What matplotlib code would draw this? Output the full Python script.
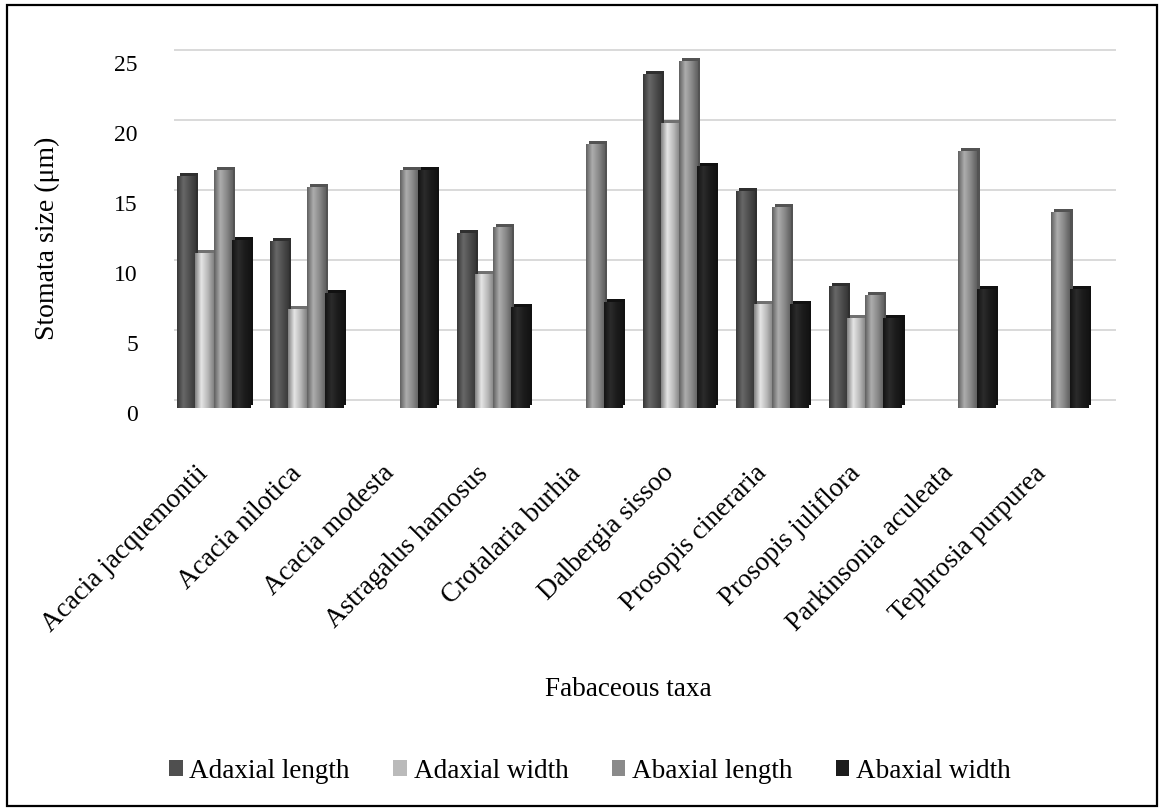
import numpy as np
import matplotlib.pyplot as plt
import matplotlib.colors as mcolors
from matplotlib.patches import Rectangle
from matplotlib.transforms import ScaledTranslation

plt.rcParams['font.family'] = ['Liberation Serif', 'DejaVu Serif']

taxa = ["Acacia jacquemontii", "Acacia nilotica", "Acacia modesta",
        "Astragalus hamosus", "Crotalaria burhia", "Dalbergia sissoo",
        "Prosopis cineraria", "Prosopis juliflora", "Parkinsonia aculeata",
        "Tephrosia purpurea"]
series = ["Adaxial length", "Adaxial width", "Abaxial length", "Abaxial width"]

adaxial_length = [16.6, 11.9, 0, 12.5, 0, 23.9, 15.5, 8.7, 0, 0]
adaxial_width = [11.1, 7.1, 0, 9.6, 0, 20.4, 7.4, 6.4, 0, 0]
abaxial_length = [17.0, 15.8, 17.0, 12.9, 18.9, 24.8, 14.4, 8.1, 18.4, 14.0]
abaxial_width = [12.0, 8.2, 17.0, 7.2, 7.6, 17.3, 7.4, 6.4, 8.5, 8.5]

values = [adaxial_length, adaxial_width, abaxial_length, abaxial_width]
colors = ["#4f4f4f", "#bababa", "#8a8a8a", "#1c1c1c"]

fig = plt.figure(figsize=(11.6, 8.11), dpi=100)
fig.patches.append(Rectangle((0.006, 0.006), 0.991, 0.988, transform=fig.transFigure,
                             fill=False, edgecolor='black', linewidth=1.6))

ax = fig.add_axes([167 / 1160, 1 - 408 / 811, 931 / 1160, 368 / 811])
x = np.arange(len(taxa))
w = 0.195

# back wall gridlines sit a little up and right of the bars
depth = ScaledTranslation(8 / 100, 8 / 100, fig.dpi_scale_trans)
for v in range(0, 26, 5):
    ax.plot([-0.5, len(taxa) - 0.4], [v, v], color='#d9d9d9', lw=1.4,
            transform=ax.transData + depth, clip_on=False, zorder=0)

side = ScaledTranslation(3 / 100, 3 / 100, fig.dpi_scale_trans)


def shade(color):
    base = np.array(mcolors.to_rgb(color))
    dark = np.clip(base * 0.7, 0, 1)
    light = np.clip(base * 1.18 + 0.04, 0, 1)
    return mcolors.LinearSegmentedColormap.from_list(
        'bar', [dark, light, base, dark])


grad = np.linspace(0, 1, 64).reshape(1, -1)
for k, (vals, col) in enumerate(zip(values, colors)):
    pos = x + (k - 1.5) * w
    bars = ax.bar(pos, vals, w, color=col, linewidth=0, zorder=3, label=series[k])
    cmap = shade(col)
    for b, v in zip(bars, vals):
        if v <= 0:
            continue
        x0 = b.get_x()
        # darker box behind the face gives the side and top of the column
        back = Rectangle((x0, 0), w, v, transform=ax.transData + side,
                         facecolor=np.clip(np.array(mcolors.to_rgb(col)) * 0.6, 0, 1),
                         edgecolor='none', zorder=2)
        ax.add_patch(back)
        im = ax.imshow(grad, extent=[x0, x0 + w, 0, v], aspect='auto', cmap=cmap,
                       zorder=4, interpolation='bilinear')
        im.set_clip_path(b)

ax.set_xlim(-0.5, len(taxa) - 0.5)
ax.set_ylim(0, 26.3)

for s in ax.spines.values():
    s.set_visible(False)

ax.set_yticks(range(0, 26, 5))
ax.tick_params(axis='y', length=0, pad=21, labelsize=17)
ax.tick_params(axis='x', length=0, pad=38, labelsize=19.5)
lower = ScaledTranslation(0, -5 / 100, fig.dpi_scale_trans)
for lbl in ax.get_yticklabels():
    lbl.set_transform(lbl.get_transform() + lower)

ax.set_xticks(x - 0.19)
ax.set_xticklabels(taxa, rotation=45, ha='right', rotation_mode='anchor')

fig.text(47 / 1160, 1 - 238 / 811, "Stomata size (μm)", rotation=90,
         ha='center', va='center', fontsize=20)
fig.text(628 / 1160, 1 - 690 / 811, "Fabaceous taxa", ha='center', va='center',
         fontsize=19.5)

handles = [Rectangle((0, 0), 1, 1, facecolor=c, edgecolor='none') for c in colors]
fig.legend(handles, series, loc='center', bbox_to_anchor=(590 / 1160, 1 - 771 / 811),
           ncol=4, frameon=False, fontsize=19.5, handlelength=0.5, handleheight=0.5,
           handletextpad=0.25, columnspacing=1.6)

fig.savefig("out.png", dpi=100)
